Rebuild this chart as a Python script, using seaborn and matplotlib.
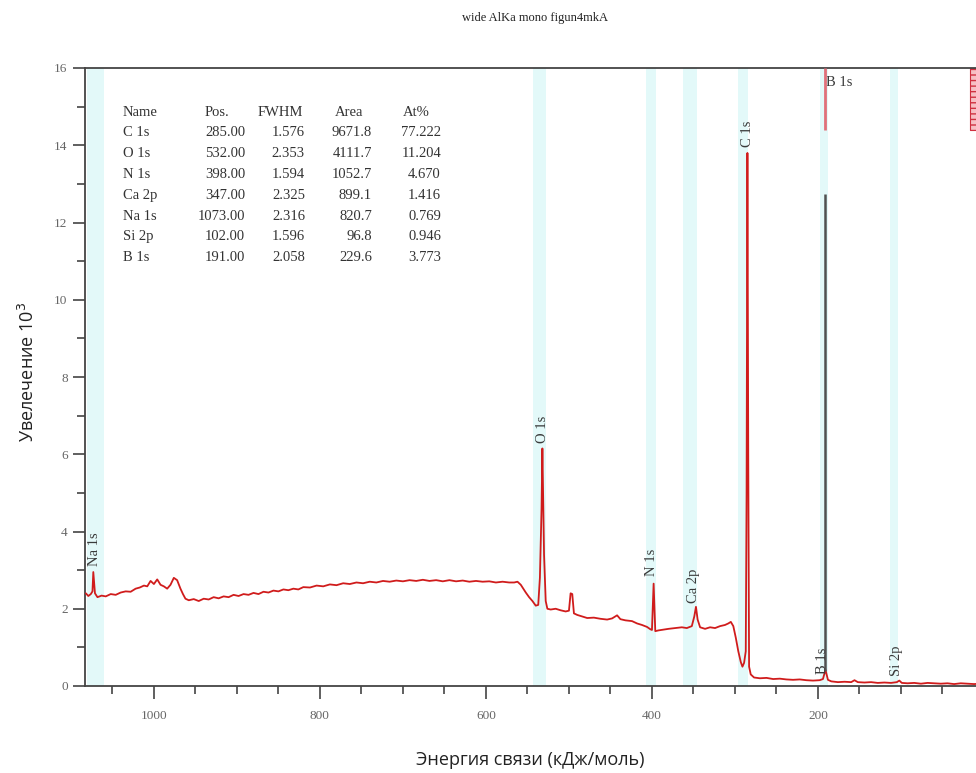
import matplotlib
matplotlib.use("Agg")
import matplotlib.pyplot as plt
import seaborn as sns
import pandas as pd
from matplotlib.ticker import MultipleLocator

# ---------------- data ----------------
energy = [1082, 1079, 1076, 1074, 1073, 1071, 1068, 1063, 1058, 1052, 1046, 1040, 1034, 1028,
          1022, 1017, 1012, 1008, 1004, 1000, 996, 992, 988, 984, 980, 976, 972, 968, 965, 962,
          958, 952, 946, 940, 934, 928, 922, 916, 910, 904, 898, 892, 886, 880, 874, 868, 862,
          856, 850, 844, 838, 832, 826, 820, 812, 804, 796, 788, 780, 772, 764, 756, 748, 740,
          732, 724, 716, 708, 700, 692, 684, 676, 668, 660, 652, 644, 636, 628, 620, 612, 604,
          596, 588, 580, 572, 566, 562, 558, 555, 552, 548, 544, 540, 537, 535, 533, 532, 531,
          530, 528, 526, 522, 516, 510, 504, 500, 498, 496, 494, 490, 484, 478, 470, 462, 454,
          448, 442, 438, 432, 424, 418, 412, 406, 402, 400, 398, 396, 392, 386, 380, 372, 364,
          358, 352, 349, 347, 345, 342, 336, 330, 324, 318, 312, 308, 305, 302, 299, 296, 293,
          291, 289, 287, 286, 285, 284, 283, 281, 277, 270, 262, 254, 246, 238, 230, 222, 214,
          206, 198, 194, 191, 188, 184, 176, 168, 160, 156, 152, 144, 136, 128, 120, 112, 105,
          102, 99, 92, 84, 76, 68, 60, 52, 44, 36, 28, 20, 12, 4, 0]
counts = [2.40, 2.33, 2.38, 2.45, 2.95, 2.40, 2.30, 2.34, 2.32, 2.38, 2.36, 2.42, 2.45, 2.44,
          2.52, 2.55, 2.60, 2.58, 2.72, 2.64, 2.76, 2.62, 2.58, 2.52, 2.62, 2.80, 2.74, 2.52, 2.38, 2.26,
          2.22, 2.25, 2.20, 2.26, 2.24, 2.30, 2.27, 2.32, 2.30, 2.36, 2.33, 2.38, 2.36, 2.41, 2.38, 2.44, 2.42,
          2.47, 2.45, 2.50, 2.48, 2.52, 2.50, 2.56, 2.55, 2.60, 2.58, 2.63, 2.61, 2.66, 2.64, 2.68, 2.66, 2.70,
          2.68, 2.72, 2.70, 2.73, 2.71, 2.74, 2.72, 2.75, 2.72, 2.74, 2.71, 2.74, 2.71, 2.73, 2.70, 2.72, 2.70,
          2.71, 2.68, 2.70, 2.68, 2.68, 2.70, 2.62, 2.52, 2.42, 2.30, 2.20, 2.08, 2.10, 2.80, 4.60, 6.15, 4.80,
          3.40, 2.20, 2.00, 1.98, 2.00, 1.96, 1.93, 1.95, 2.40, 2.38, 1.88, 1.84, 1.80, 1.76, 1.77, 1.74, 1.72,
          1.75, 1.83, 1.73, 1.70, 1.68, 1.62, 1.58, 1.53, 1.47, 1.45, 2.65, 1.42, 1.44, 1.46, 1.48, 1.50, 1.52,
          1.50, 1.55, 1.80, 2.05, 1.72, 1.52, 1.48, 1.52, 1.50, 1.55, 1.58, 1.62, 1.66, 1.55, 1.25, 0.90, 0.62,
          0.50, 0.60, 0.90, 5.00, 13.80, 6.00, 0.50, 0.30, 0.22, 0.20, 0.21, 0.18, 0.19, 0.17, 0.16, 0.17, 0.15,
          0.14, 0.15, 0.18, 0.42, 0.16, 0.12, 0.10, 0.11, 0.10, 0.15, 0.10, 0.09, 0.10, 0.08, 0.09, 0.08, 0.10,
          0.14, 0.08, 0.07, 0.08, 0.06, 0.08, 0.07, 0.06, 0.07, 0.05, 0.07, 0.06, 0.05, 0.06, 0.05]

# peak labels
peak_names = ["Na 1s", "O 1s", "C 1s", "N 1s", "Ca 2p", "B 1s", "Si 2p"]
peak_label_x = [1071, 532, 285, 400, 350, 195, 106]
peak_label_y = [3.10, 6.30, 13.95, 2.85, 2.15, 0.30, 0.25]

# light component regions
band_lo = [1060, 528, 395, 346, 284, 188, 104]
band_hi = [1080, 543, 407, 363, 296, 198, 113]

# B 1s marker
b1s_x = 191
b1s_red = [14.4, 16.0]
b1s_gray = [0.4, 12.75]
b1s_title_x = 190
b1s_title_y = 15.8
box_x = [17, 0]
box_y = [14.4, 16.0]

# quantification table
tab_header = ["Name", "Pos.", "FWHM", "Area", "At%"]
tab_name = ["C 1s", "O 1s", "N 1s", "Ca 2p", "Na 1s", "Si 2p", "B 1s"]
tab_pos = ["285.00", "532.00", "398.00", "347.00", "1073.00", "102.00", "191.00"]
tab_fwhm = ["1.576", "2.353", "1.594", "2.325", "2.316", "1.596", "2.058"]
tab_area = ["9671.8", "4111.7", "1052.7", "899.1", "820.7", "96.8", "229.6"]
tab_at = ["77.222", "11.204", "4.670", "1.416", "0.769", "0.946", "3.773"]

x_ticks = [0, 200, 400, 600, 800, 1000]
y_ticks = [0, 2, 4, 6, 8, 10, 12, 14, 16]

title = "wide AlKa mono figun4mkA"
xlabel = "Энергия связи (кДж/моль)"
ylabel = "Увелечение 10$^{3}$"

# ---------------- figure ----------------
sns.set_style("ticks")
plt.rcParams["font.family"] = ["Liberation Serif", "DejaVu Serif"]
plt.rcParams["mathtext.fontset"] = "dejavusans"

W, H = 976, 773
fig = plt.figure(figsize=(W / 100, H / 100), dpi=100)
ax = fig.add_axes([85 / W, 1 - 686 / H, (984 - 85) / W, (686 - 68) / H])

for lo, hi in zip(band_lo, band_hi):
    ax.axvspan(lo, hi, color="#dcf8f8", alpha=0.8, lw=0, zorder=0)

df = pd.DataFrame({"energy": energy, "counts": counts})
sns.lineplot(data=df, x="energy", y="counts", sort=False, estimator=None,
             color="#d01c1c", lw=1.3, ax=ax, zorder=3)

ax.vlines(b1s_x, b1s_red[0], b1s_red[1], color="#e0707a", lw=2, zorder=4)
ax.vlines(b1s_x, b1s_gray[0], b1s_gray[1], color="#505050", lw=1.8, zorder=4)
ax.fill_between(box_x, box_y[0], box_y[1], facecolor="#f6c0c4", edgecolor="#d03040",
                hatch="---", lw=0.8, zorder=2)

for name, px, py in zip(peak_names, peak_label_x, peak_label_y):
    ax.text(px, py, name, rotation=90, ha="center", va="bottom", fontsize=10.5,
            color="#3a3a3a", zorder=5)
ax.text(b1s_title_x, b1s_title_y, "B 1s", ha="left", va="top", fontsize=10.5, color="#3a3a3a")

# table
cols_x = [123, 245, 305, 372, 441]
head_x = [123, 217, 280, 349, 416]
row0 = 112
dy = 20.8
for i, (h, hx) in enumerate(zip(tab_header, head_x)):
    fig.text(hx / W, 1 - row0 / H, h, ha="left" if i == 0 else "center", va="center",
             fontsize=10.5, color="#333333")
for r in range(len(tab_name)):
    yy = 1 - (row0 + dy * (r + 1)) / H
    vals = [tab_name[r], tab_pos[r], tab_fwhm[r], tab_area[r], tab_at[r]]
    for c, v in enumerate(vals):
        fig.text(cols_x[c] / W, yy, v, ha="left" if c == 0 else "right", va="center",
                 fontsize=10.5, color="#333333")

ax.set_xlim(1083, 0)
ax.set_ylim(0, 16)
ax.set_xticks(x_ticks)
ax.set_xticklabels([str(t) for t in x_ticks])
ax.set_yticks(y_ticks)
ax.set_yticklabels([str(t) for t in y_ticks])
ax.xaxis.set_minor_locator(MultipleLocator(50))
ax.yaxis.set_minor_locator(MultipleLocator(1))
ax.tick_params(axis="both", which="major", direction="out", length=9, width=1.2,
               color="#444444", labelcolor="#666666", labelsize=9.5)
ax.tick_params(axis="both", which="minor", direction="out", length=6, width=1.2, color="#444444")
ax.tick_params(axis="x", pad=8)
for s in ["left", "bottom", "top", "right"]:
    ax.spines[s].set_color("#444444")
    ax.spines[s].set_linewidth(1.3)
ax.set_xlabel("")
ax.set_ylabel("")

fig.text(535 / W, 1 - 18 / H, title, ha="center", va="center", fontsize=9, color="#222222")
fig.text(530 / W, 1 - 760 / H, xlabel, ha="center", va="center", fontsize=13,
         color="#222222", family=["Open Sans", "DejaVu Sans"])
fig.text(28 / W, 1 - 372 / H, ylabel, ha="center", va="center", rotation=90, fontsize=13,
         color="#222222", family=["Open Sans", "DejaVu Sans"])

fig.savefig("out.png", dpi=100)
